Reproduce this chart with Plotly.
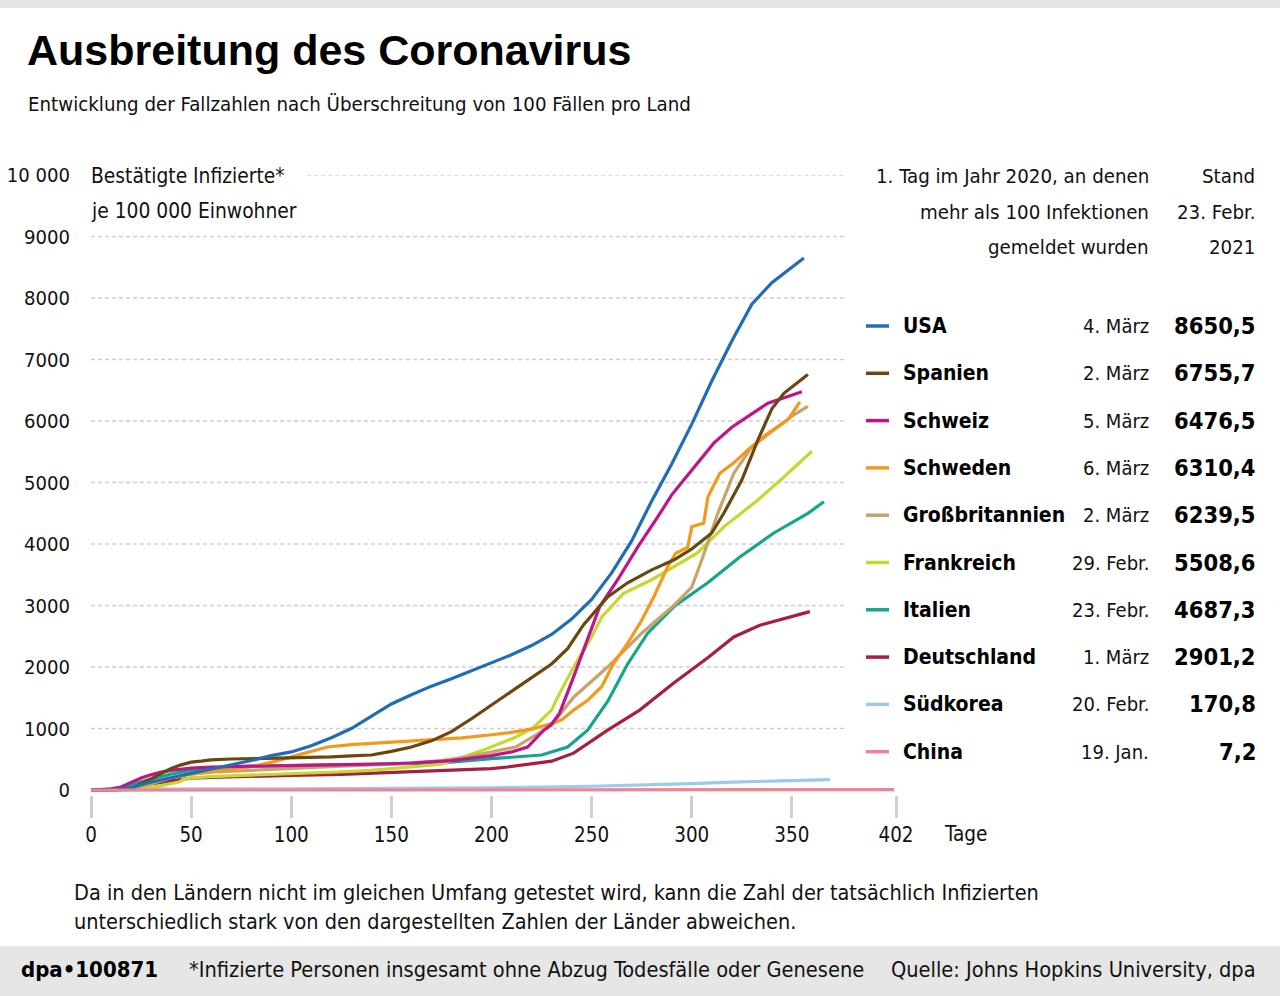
import plotly.graph_objects as go

# ---------------- data (days since 100th case, infections per 100 000 inhabitants) -------------
usa_days = [0,10,20,30,40,50,60,70,80,90,100,110,120,130,140,150,160,170,180,190,200,210,220,230,240,250,260,270,280,290,300,310,320,330,340,350,356]
usa_vals = [0,5,40,130,200,270,330,400,480,560,620,720,850,1000,1200,1400,1550,1690,1810,1940,2060,2200,2350,2530,2780,3100,3530,4050,4700,5300,5950,6650,7300,7900,8250,8500,8650.5]

esp_days = [0,10,15,20,25,30,35,40,45,50,55,60,70,80,90,100,110,120,130,140,150,160,170,180,190,200,210,220,230,238,246,258,268,280,291,300,310,316,325,333,340,346,353,358]
esp_vals = [0,0,8,30,100,180,270,350,410,455,470,490,505,510,515,520,530,540,555,570,630,700,800,950,1160,1380,1600,1830,2050,2300,2690,3140,3370,3580,3740,3920,4180,4500,5040,5690,6200,6450,6620,6755.7]

che_days = [0,10,15,20,25,30,35,40,50,60,80,100,120,140,160,180,200,210,218,221,226,230,234,241,248,254,263,273,283,290,296,303,311,320,328,338,348,355]
che_vals = [0,20,50,120,195,250,293,320,358,375,390,400,410,420,440,480,560,620,700,800,970,1070,1250,1840,2440,2980,3420,3950,4440,4800,5040,5320,5640,5900,6070,6290,6400,6476.5]

swe_days = [0,15,20,30,40,50,60,70,80,90,100,110,118,130,150,170,185,200,208,220,230,235,241,248,255,261,268,275,281,288,292,298,300,306,308,314,321,328,338,348,354]
swe_vals = [0,10,40,120,200,260,300,340,380,450,540,630,700,740,780,830,850,900,930,990,1080,1140,1300,1460,1680,2060,2390,2760,3140,3630,3850,3950,4280,4340,4760,5150,5320,5530,5800,6020,6310.4]

gbr_days = [0,10,20,30,40,50,60,80,100,125,150,175,188,212,224,230,241,258,275,291,300,305,313,321,330,341,350,358]
gbr_vals = [0,2,20,100,200,260,290,320,360,390,420,480,540,700,930,1057,1510,2000,2550,3000,3300,3740,4500,5150,5580,5850,6080,6239.5]

fra_days = [0,20,30,40,44,46,50,60,80,100,120,140,160,175,185,196,212,221,230,233,241,250,255,266,280,291,303,316,333,346,360]
fra_vals = [0,10,40,100,130,170,200,220,240,270,290,320,370,420,530,650,860,1020,1300,1510,2000,2490,2810,3200,3420,3630,3860,4280,4715,5090,5508.6]

ita_days = [0,10,15,20,30,40,50,60,70,80,100,125,150,175,200,210,225,238,248,258,268,278,291,308,324,341,358,366]
ita_vals = [0,10,30,90,180,260,320,350,375,390,405,415,425,440,510,530,570,700,975,1440,2050,2550,2980,3370,3790,4180,4500,4687.3]

deu_days = [0,10,20,30,40,50,60,80,100,125,150,175,200,208,220,230,241,258,274,291,308,321,334,348,359]
deu_vals = [0,2,20,100,150,195,205,225,240,255,285,310,350,375,420,470,600,975,1300,1740,2150,2490,2680,2810,2901.2]

kor_days = [0,10,20,30,40,60,100,150,200,250,270,290,300,320,340,360,369]
kor_vals = [0.2,1,15,18,19,20,22,27,38,62,75,90,105,130,150,162,170.8]

chn_days = [0,10,20,30,40,60,100,200,300,401]
chn_vals = [0,0.3,1.5,5,5.6,5.8,6,6.3,6.6,7.2]

countries   = ["USA","Spanien","Schweiz","Schweden","Großbritannien","Frankreich","Italien","Deutschland","Südkorea","China"]
first_days  = ["4. März","2. März","5. März","6. März","2. März","29. Febr.","23. Febr.","1. März","20. Febr.","19. Jan."]
latest      = ["8650,5","6755,7","6476,5","6310,4","6239,5","5508,6","4687,3","2901,2","170,8","7,2"]
colors      = ["#1f6db4","#6b4710","#c0158a","#f5991c","#c8a46a","#c6d830","#17a48f","#a51f40","#9ec8ec","#ec8595"]
series_days = [usa_days,esp_days,che_days,swe_days,gbr_days,fra_days,ita_days,deu_days,kor_days,chn_days]
series_vals = [usa_vals,esp_vals,che_vals,swe_vals,gbr_vals,fra_vals,ita_vals,deu_vals,kor_vals,chn_vals]

y_ticks = [0,1000,2000,3000,4000,5000,6000,7000,8000,9000,10000]
y_ticktext = ["0","1000","2000","3000","4000","5000","6000","7000","8000","9000","10 000"]
x_ticks = [0,50,100,150,200,250,300,350,402]

# ---------------- layout geometry (pixels) ----------------
W, H = 1280, 996
PL, PR, PT, PB = 91, 896, 175, 795   # plot area in pixels
Y_MIN, Y_MAX = -80, 10000

def px(x):
    return (x - PL) / (PR - PL)

def py(y):
    return (PB - y) / (PB - PT)

NARROW = "DejaVu Sans Condensed, DejaVu Sans, sans-serif"
BOLD = "Liberation Sans, Arial, sans-serif"

fig = go.Figure()

order = [8,7,6,5,4,3,2,1,0,9]
for i in order:
    fig.add_trace(go.Scatter(
        x=series_days[i], y=series_vals[i], mode="lines",
        line=dict(color=colors[i], width=3.2),
        name=countries[i], showlegend=False, hoverinfo="skip"))

shapes = []
# dashed gridlines
for v in y_ticks[1:]:
    x0 = 108 if v == 10000 else 0
    shapes.append(dict(type="line", xref="x", yref="y", x0=x0, x1=377, y0=v, y1=v,
                       line=dict(color="#cfcfcf", width=1.5, dash="4px,3px"), layer="below"))
# top & bottom grey bands
shapes.append(dict(type="rect", xref="paper", yref="paper", x0=px(0), x1=px(W), y0=py(0), y1=py(8),
                   fillcolor="#e6e6e6", line=dict(width=0), layer="below"))
shapes.append(dict(type="rect", xref="paper", yref="paper", x0=px(0), x1=px(W), y0=py(946), y1=py(H),
                   fillcolor="#e6e6e6", line=dict(width=0), layer="below"))

annotations = []
def txt(x, y, s, size, anchor="left", family=NARROW, bold=False, color="#111111"):
    if bold:
        s = "<b>" + s + "</b>"
    annotations.append(dict(x=px(x), y=py(y), xref="paper", yref="paper", text=s, showarrow=False,
                            xanchor=anchor, yanchor="middle", align=anchor,
                            font=dict(family=family, size=size, color=color)))

txt(25, 50, "Ausbreitung des Coronavirus", 43, family=BOLD, bold=True, color="#000000")
txt(26, 104, "Entwicklung der Fallzahlen nach Überschreitung von 100 Fällen pro Land", 20.3)
txt(89, 176, "Bestätigte Infizierte*", 20.8)
txt(89, 211, "je 100 000 Einwohner", 20.8)
txt(1151, 176, "1. Tag im Jahr 2020, an denen", 20.3, anchor="right")
txt(1151, 212, "mehr als 100 Infektionen", 20.3, anchor="right")
txt(1151, 247, "gemeldet wurden", 20.3, anchor="right")
txt(1257, 176, "Stand", 20.3, anchor="right")
txt(1257, 212, "23. Febr.", 20.3, anchor="right")
txt(1257, 247, "2021", 20.3, anchor="right")
txt(942, 834, "Tage", 20.6)

row_y0, row_step = 326, 47.3
for k in range(len(countries)):
    yy = row_y0 + k * row_step
    shapes.append(dict(type="line", xref="paper", yref="paper", x0=px(866), x1=px(889),
                       y0=py(yy), y1=py(yy), line=dict(color=colors[k], width=3.5)))
    txt(901, yy, countries[k], 21, bold=True, color="#000000")
    txt(1151, yy, first_days[k], 20, anchor="right")
    txt(1258, yy, latest[k], 23.5, anchor="right", bold=True, color="#000000")

txt(72, 893, "Da in den Ländern nicht im gleichen Umfang getestet wird, kann die Zahl der tatsächlich Infizierten", 21.5)
txt(72, 921, "unterschiedlich stark von den dargestellten Zahlen der Länder abweichen.", 21.5)
txt(19, 969, "dpa•100871", 22, bold=True, color="#000000")
txt(187, 969, "*Infizierte Personen insgesamt ohne Abzug Todesfälle oder Genesene", 21.6)
txt(1258, 969, "Quelle: Johns Hopkins University, dpa", 21.6, anchor="right")

fig.update_layout(
    width=W, height=H,
    margin=dict(l=PL, r=W - PR, t=PT, b=H - PB, autoexpand=False),
    paper_bgcolor="white", plot_bgcolor="white",
    shapes=shapes, annotations=annotations,
    font=dict(family=NARROW, size=20, color="#111111"),
    xaxis=dict(range=[0, 402], tickvals=x_ticks, ticktext=[str(t) for t in x_ticks],
               showgrid=False, zeroline=False, showline=False, automargin=False,
               ticks="outside", ticklen=22, tickwidth=3, tickcolor="#d0d0d0",
               tickfont=dict(family=NARROW, size=20.4, color="#111111"), fixedrange=True),
    yaxis=dict(range=[Y_MIN, Y_MAX], tickvals=y_ticks, ticktext=y_ticktext,
               showgrid=False, zeroline=False, showline=False, automargin=False,
               ticks="", ticklabelstandoff=20,
               tickfont=dict(family=NARROW, size=20.1, color="#111111"), fixedrange=True),
)

fig.write_html("out.html")
